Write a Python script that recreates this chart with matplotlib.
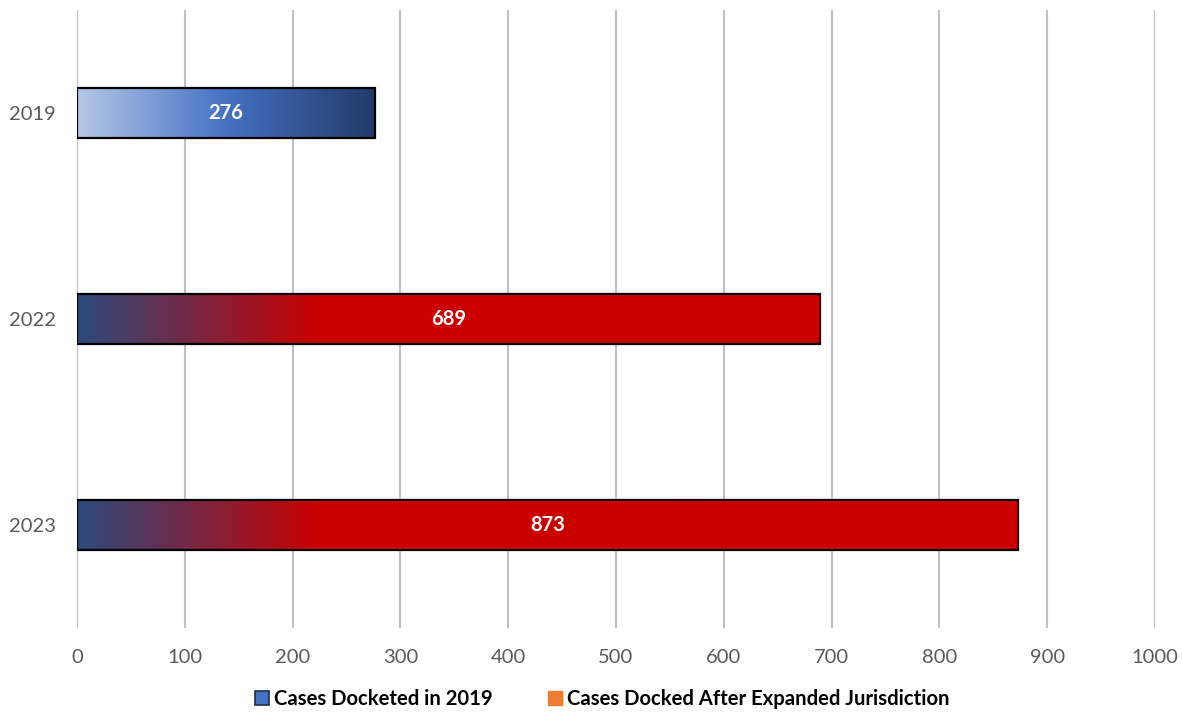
import numpy as np
import matplotlib
matplotlib.use("Agg")
import matplotlib.pyplot as plt
from matplotlib.colors import LinearSegmentedColormap
from matplotlib.patches import Rectangle
from matplotlib.lines import Line2D

plt.rcParams['font.family'] = ['Lato', 'DejaVu Sans']

# Data
years = ["2019", "2022", "2023"]
cases = [276, 689, 873]
legend_labels = ["Cases Docketed in 2019", "Cases Docked After Expanded Jurisdiction"]
x_ticks = [0, 100, 200, 300, 400, 500, 600, 700, 800, 900, 1000]

# Fill gradients
blue_cmap = LinearSegmentedColormap.from_list(
    "blue_grad", [(0.0, "#b4c7e7"), (0.5, "#4472c4"), (1.0, "#223b68")])
red_cmap = LinearSegmentedColormap.from_list(
    "red_grad", [(0.0, "#2c4a7e"), (1.0, "#cc0000")])
red_span = 225  # value where the blue-to-red blend reaches solid red

fig = plt.figure(figsize=(11.83, 7.13), dpi=100)
ax = fig.add_axes([77 / 1183, (713 - 628) / 713, (1155 - 77) / 1183, (628 - 10) / 713])

ax.set_xlim(0, 1000)
ax.set_ylim(2.5, -0.5)
bar_h = 0.245

for i, (yr, v) in enumerate(zip(years, cases)):
    rect = Rectangle((0, i - bar_h / 2), v, bar_h, facecolor="none",
                     edgecolor="black", linewidth=1.6, zorder=4)
    ax.add_patch(rect)
    if i == 0:
        grad = np.linspace(0, 1, 512)[None, :]
        im = ax.imshow(grad, cmap=blue_cmap, aspect="auto",
                       extent=(0, v, i + bar_h / 2, i - bar_h / 2), zorder=3,
                       interpolation="bilinear")
    else:
        xs = np.linspace(0, v, 1024)
        grad = np.clip(xs / red_span, 0, 1)[None, :]
        im = ax.imshow(grad, cmap=red_cmap, vmin=0, vmax=1, aspect="auto",
                       extent=(0, v, i + bar_h / 2, i - bar_h / 2), zorder=3,
                       interpolation="bilinear")
    clip = Rectangle((0, i - bar_h / 2), v, bar_h, transform=ax.transData)
    im.set_clip_path(clip)
    ax.text(v / 2, i, str(v), ha="center", va="center", color="white",
            fontsize=14.5, fontweight="bold", zorder=5)

ax.set_xlim(0, 1000)
ax.set_ylim(2.5, -0.5)

ax.set_xticks(x_ticks)
ax.set_xticklabels([str(t) for t in x_ticks])
ax.set_yticks(range(len(years)))
ax.set_yticklabels(years)
ax.tick_params(axis="both", length=0, labelsize=14.5, labelcolor="#595959")
ax.tick_params(axis="x", pad=15)
ax.tick_params(axis="y", pad=15)

ax.grid(axis="x", color="#c0c0c0", linewidth=1.5, zorder=0)
ax.set_axisbelow(True)
for s in ax.spines.values():
    s.set_visible(False)

handles = [
    Line2D([], [], marker="s", linestyle="none", markersize=10,
           markerfacecolor="#4472c4", markeredgecolor="#1f2f4f", markeredgewidth=1.2),
    Line2D([], [], marker="s", linestyle="none", markersize=10,
           markerfacecolor="#ed7d31", markeredgecolor="#ed7d31"),
]
fig.legend(handles, legend_labels, loc="center", bbox_to_anchor=(0.509, (713 - 699) / 713),
           ncol=2, frameon=False, handlelength=0.7, handletextpad=0.25,
           columnspacing=2.75, prop={"weight": "bold", "size": 14.6})

fig.savefig("out.png", dpi=100, facecolor="white")
